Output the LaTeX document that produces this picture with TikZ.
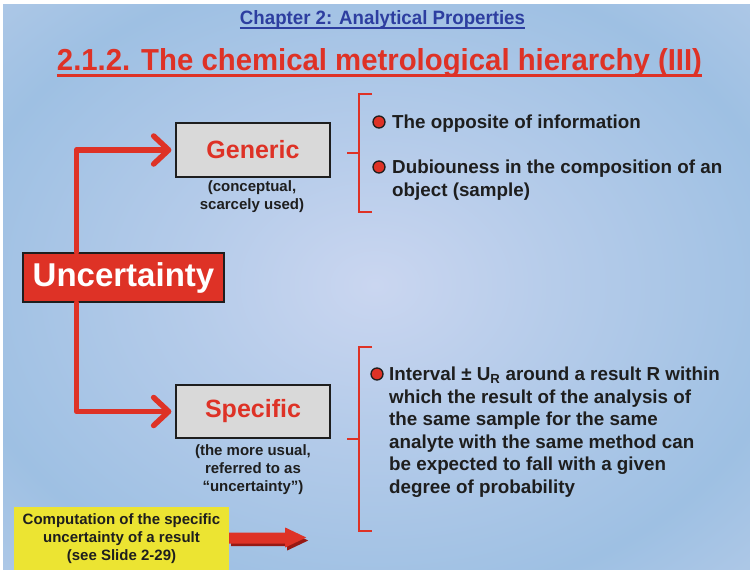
\documentclass[tikz,border=0pt]{standalone}
\usepackage{fontspec}
\usepackage{graphicx}
\setmainfont{Liberation Sans}
\usetikzlibrary{arrows.meta}
\definecolor{myred}{RGB}{222,50,38}
\definecolor{mydark}{RGB}{150,25,20}
\definecolor{myblue}{RGB}{45,62,160}
\definecolor{mygray}{RGB}{217,217,217}
\definecolor{mytext}{RGB}{30,30,30}
\definecolor{myyellow}{RGB}{236,228,50}
\definecolor{bgA}{RGB}{202,214,240}
\definecolor{bgAB}{RGB}{182,204,234}
\definecolor{bgB}{RGB}{158,192,227}
\definecolor{bgC}{RGB}{194,210,235}
\definecolor{bgD}{RGB}{238,228,246}
\pgfdeclareradialshading{bgshade}{\pgfpoint{0bp}{0bp}}{color(0bp)=(bgA); color(12bp)=(bgAB); color(28bp)=(bgB); color(46bp)=(bgC); color(62bp)=(bgD); color(80bp)=(bgD)}
\tikzset{
  conn/.style={draw=myred, line width=5.5pt, line join=round, line cap=round,
    -{Straight Barb[length=15pt,width=28pt,line cap=round,line join=round]}},
  bracket/.style={draw=myred, line width=2pt},
  graybox/.style={draw=mytext, line width=1.2pt, fill=mygray, minimum width=154pt, minimum height=54pt,
    text=myred, font=\fontsize{25}{28}\selectfont\bfseries, inner sep=0pt},
  subtext/.style={text=mytext, font=\fontsize{15}{18}\selectfont\bfseries, align=center, inner sep=0pt},
  btext/.style={text=mytext, font=\fontsize{18.8}{22}\selectfont\bfseries, inner sep=0pt, anchor=base west},
  bullet/.style={circle, fill=myred, draw=mytext, line width=1.3pt, minimum size=12pt, inner sep=0pt},
}
\begin{document}
\begin{tikzpicture}[x=1pt,y=-1pt]
\useasboundingbox (0,0) rectangle (750,570);
\shade[shading=bgshade] (0,0) rectangle (750,570);
\fill[white] (0,0) rectangle (750,4);
\fill[white] (0,0) rectangle (3,570);
% headings
\node[inner sep=0pt, anchor=base, text=myblue] (chap) at (382.5,24) {\resizebox{285pt}{14pt}{\bfseries Chapter 2: Analytical Properties}};
\draw[myblue, line width=2pt] ([yshift=-4pt]chap.base west) -- ([yshift=-4pt]chap.base east);
\node[inner sep=0pt, anchor=base, text=myred] (title) at (379.5,70) {\resizebox{645pt}{22pt}{\bfseries 2.1.2. The chemical metrological hierarchy (III)}};
\draw[myred, line width=3.5pt] ([yshift=-5.5pt]title.base west) -- ([yshift=-5.5pt]title.base east);
% main nodes
\node[draw=mytext, line width=1.2pt, fill=myred, minimum width=201pt, minimum height=49pt, inner sep=0pt,
  text=white, font=\fontsize{33}{36}\selectfont\bfseries] (unc) at (123.5,277.5) {\raisebox{-2pt}{Uncertainty}};
\node[graybox] (gen) at (253,150) {Generic};
\node[graybox, minimum height=53pt] (spec) at (253,411.5) {Specific};
\node[subtext] (gensub) at (252,197) {(conceptual,\\scarcely used)};
\node[subtext] (specsub) at (253,470) {(the more usual,\\referred to as\\“uncertainty”)};
\draw[conn, shorten >=4pt] ([xshift=54pt]unc.north west) |- (gen.west);
\draw[conn, shorten >=4pt] ([xshift=54pt]unc.south west) |- (spec.west);
% brackets
\coordinate (b1t) at (359,94);
\coordinate (b1b) at (359,212);
\coordinate (b1m) at (359,153);
\draw[bracket] ([xshift=13pt]b1t) -- (b1t) -- (b1b) -- ([xshift=13pt]b1b);
\draw[bracket] (b1m) -- ++(-12,0);
\coordinate (b2t) at (359,347);
\coordinate (b2b) at (359,531);
\coordinate (b2m) at (359,439);
\draw[bracket] ([xshift=13pt]b2t) -- (b2t) -- (b2b) -- ([xshift=13pt]b2b);
\draw[bracket] (b2m) -- ++(-12,0);
% bullets and text
\node[bullet] (d1) at (379,122) {};
\node[btext] (t1) at (392,128.5) {The opposite of information};
\node[bullet] (d2) at (379,167) {};
\node[btext] (t2a) at (392,173.5) {Dubiouness in the composition of an};
\node[btext] (t2b) at (392,196.5) {object (sample)};
\node[bullet] (d3) at (377,374) {};
\node[btext] (t3a) at (389,380.5) {Interval ± U\textsubscript{R} around a result R within};
\node[btext] (t3b) at (389,403) {which the result of the analysis of};
\node[btext] (t3c) at (389,425.5) {the same sample for the same};
\node[btext] (t3d) at (389,448) {analyte with the same method can};
\node[btext] (t3e) at (389,470.5) {be expected to fall with a given};
\node[btext] (t3f) at (389,493) {degree of probability};
% yellow box
\node[fill=myyellow, minimum width=215pt, minimum height=63pt, inner sep=0pt, subtext] (yel) at (121.5,538.5)
  {Computation of the specific\\uncertainty of a result\\(see Slide 2-29)};
\fill[mydark] ([xshift=2pt,yshift=-2pt]yel.east) ++(0,-4.5) -- ++(56,0) -- ++(0,-5.5) -- ++(21,10) -- ++(-21,10) -- ++(0,-4.5) -- ++(-56,0) -- cycle;
\fill[myred] (yel.east) ++(0,-6) -- ++(56,0) -- ++(0,-5) -- ++(21,10) -- ++(-21,10) -- ++(0,-4) -- ++(-56,0) -- cycle;
\end{tikzpicture}
\end{document}
